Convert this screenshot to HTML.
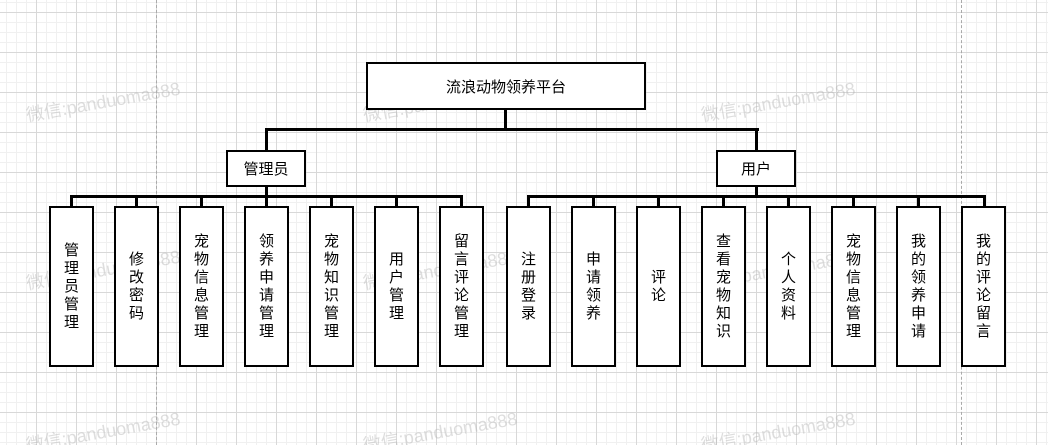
<!DOCTYPE html>
<html style="overflow:hidden;height:445px"><head><meta charset="utf-8"><style>
body{margin:0;width:1048px;height:445px;overflow:hidden;position:relative;background:#fff;
background-image:linear-gradient(#d8d8d8 1px,transparent 1px),linear-gradient(90deg,#d8d8d8 1px,transparent 1px),linear-gradient(#f0f0f0 1px,transparent 1px),linear-gradient(90deg,#f0f0f0 1px,transparent 1px);
background-size:40px 40px,40px 40px,10px 10px,10px 10px;background-position:36px 12px,36px 12px,6px 2px,6px 2px;
font-family:"Liberation Sans","Noto Sans CJK SC",sans-serif;}
.b{position:absolute;border:2px solid #000;background:#fff;box-sizing:border-box;display:flex;align-items:center;justify-content:center;font-size:15px;color:#000;}
.v{width:45px;top:206px;height:161px;line-height:18px;text-align:center;}
.v span{width:16px;display:block;word-break:break-all;}
.l{position:absolute;background:#000;}
.w{position:absolute;color:rgba(180,180,180,.45);font-size:18px;transform:rotate(-10deg);white-space:nowrap;}
.d{position:absolute;top:0;height:445px;border-left:1px dashed #aaa;}
</style></head><body>
<div class="d" style="left:156px"></div><div class="d" style="left:961px"></div>
<div class="w" style="left:25px;top:88px">微信:panduoma888</div>
<div class="w" style="left:362px;top:88px">微信:panduoma888</div>
<div class="w" style="left:700px;top:88px">微信:panduoma888</div>
<div class="w" style="left:25px;top:256px">微信:panduoma888</div>
<div class="w" style="left:362px;top:256px">微信:panduoma888</div>
<div class="w" style="left:700px;top:256px">微信:panduoma888</div>
<div class="w" style="left:25px;top:418px">微信:panduoma888</div>
<div class="w" style="left:362px;top:418px">微信:panduoma888</div>
<div class="w" style="left:700px;top:418px">微信:panduoma888</div>

<div class="b" style="left:366px;top:62px;width:280px;height:48px">流浪动物领养平台</div>
<div class="l" style="left:504px;top:110px;width:3px;height:20px"></div>
<div class="l" style="left:265px;top:128px;width:494px;height:3px"></div>
<div class="l" style="left:265px;top:128px;width:3px;height:22px"></div>
<div class="l" style="left:755px;top:128px;width:3px;height:22px"></div>
<div class="b" style="left:226px;top:150px;width:80px;height:37px">管理员</div>
<div class="b" style="left:716px;top:150px;width:80px;height:37px">用户</div>
<div class="l" style="left:265px;top:187px;width:3px;height:10px"></div>
<div class="l" style="left:755px;top:187px;width:3px;height:10px"></div>
<div class="l" style="left:70px;top:195px;width:393px;height:3px"></div>
<div class="l" style="left:527px;top:195px;width:459px;height:3px"></div>

<div class="l" style="left:70px;top:195px;width:3px;height:12px"></div>
<div class="l" style="left:135px;top:195px;width:3px;height:12px"></div>
<div class="l" style="left:200px;top:195px;width:3px;height:12px"></div>
<div class="l" style="left:265px;top:195px;width:3px;height:12px"></div>
<div class="l" style="left:330px;top:195px;width:3px;height:12px"></div>
<div class="l" style="left:395px;top:195px;width:3px;height:12px"></div>
<div class="l" style="left:460px;top:195px;width:3px;height:12px"></div>
<div class="l" style="left:527px;top:195px;width:3px;height:12px"></div>
<div class="l" style="left:592px;top:195px;width:3px;height:12px"></div>
<div class="l" style="left:657px;top:195px;width:3px;height:12px"></div>
<div class="l" style="left:722px;top:195px;width:3px;height:12px"></div>
<div class="l" style="left:787px;top:195px;width:3px;height:12px"></div>
<div class="l" style="left:852px;top:195px;width:3px;height:12px"></div>
<div class="l" style="left:917px;top:195px;width:3px;height:12px"></div>
<div class="l" style="left:983px;top:195px;width:3px;height:12px"></div>

<div class="b v" style="left:49px"><span>管理员管理</span></div>
<div class="b v" style="left:114px"><span>修改密码</span></div>
<div class="b v" style="left:179px"><span>宠物信息管理</span></div>
<div class="b v" style="left:244px"><span>领养申请管理</span></div>
<div class="b v" style="left:309px"><span>宠物知识管理</span></div>
<div class="b v" style="left:374px"><span>用户管理</span></div>
<div class="b v" style="left:439px"><span>留言评论管理</span></div>
<div class="b v" style="left:506px"><span>注册登录</span></div>
<div class="b v" style="left:571px"><span>申请领养</span></div>
<div class="b v" style="left:636px"><span>评论</span></div>
<div class="b v" style="left:701px"><span>查看宠物知识</span></div>
<div class="b v" style="left:766px"><span>个人资料</span></div>
<div class="b v" style="left:831px"><span>宠物信息管理</span></div>
<div class="b v" style="left:896px"><span>我的领养申请</span></div>
<div class="b v" style="left:961px"><span>我的评论留言</span></div>
</body></html>
